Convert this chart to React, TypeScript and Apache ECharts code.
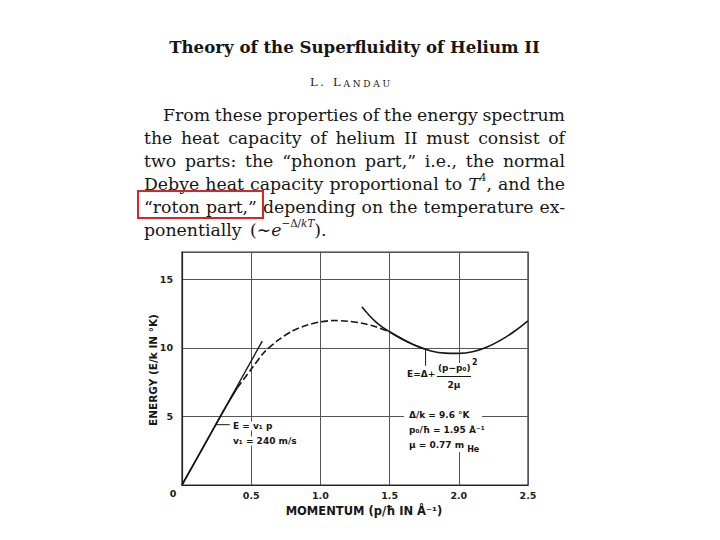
import React, { useEffect, useRef } from "react";
import * as echarts from "echarts";

// ---- data ----
const momentum = [0, 0.1, 0.2, 0.3, 0.4, 0.5, 0.6, 0.7, 0.8, 0.9, 1.0, 1.1, 1.2, 1.3, 1.4, 1.5, 1.6, 1.7, 1.8, 1.9, 2.0, 2.1, 2.2, 2.3, 2.4, 2.5];
const energy = [0, 1.8, 3.6, 5.4, 7.1, 8.45, 9.75, 10.6, 11.25, 11.65, 11.9, 12.0, 11.95, 11.8, 11.55, 11.18, 10.6, 10.12, 9.78, 9.62, 9.6, 9.72, 10.05, 10.55, 11.2, 11.98];
const dashStart = 4; // index of p = 0.4
const dashEnd = 15; // index of p = 1.5
const phononP = [0, 0.58];
const phononE = [0, 10.5];
const rotonP = [1.3, 1.35, 1.4, 1.45, 1.5, 1.55, 1.6, 1.65, 1.7, 1.75];
const rotonE = [13.0, 12.4, 11.9, 11.5, 11.18, 10.87, 10.6, 10.35, 10.12, 9.93];
const rotonLeaderP = [1.76, 1.76];
const rotonLeaderE = [9.9, 8.7];
const phononLeaderP = [0.245, 0.345];
const phononLeaderE = [4.4, 4.4];
const xTickLabels = ["", "0.5", "1.0", "1.5", "2.0", "2.5"];
const yTickLabels = ["", "5", "10", "15"];

const titleText = "Theory of the Superfluidity of Helium II";
const paragraph = [
  "From these properties of the energy spectrum",
  "the heat capacity of helium II must consist of",
  "two parts: the “phonon part,” i.e., the normal",
  "Debye heat capacity proportional to _T_^4^, and the",
  "“roton part,” depending on the temperature ex-",
  "ponentially (∼_e_^−Δ/^~kT~).",
];

const SERIF = '"DejaVu Serif", serif';
const SANS = '"DejaVu Sans", sans-serif';
const INK = "#161616";

const zip = (a: number[], b: number[]) => a.map((v, i) => [v, b[i]]);

export default function App() {
  const ref = useRef<HTMLDivElement>(null);
  useEffect(() => {
    const chart = echarts.init(ref.current!, null, { renderer: "svg" });
    const ctx = document.createElement("canvas").getContext("2d")!;
    const tw = (t: string, size: number, family: string, weight = "normal", style = "normal") => {
      ctx.font = `${style} ${weight} ${size}px ${family}`;
      return ctx.measureText(t).width;
    };
    const txt = (text: string, x: number, y: number, o: any) => ({
      type: "text",
      x,
      y,
      z: o.z ?? 10,
      silent: true,
      rotation: o.rotation ?? 0,
      style: {
        text,
        fontSize: o.size,
        fontFamily: o.family,
        fontWeight: o.weight || "normal",
        fontStyle: o.style || "normal",
        fill: o.fill || INK,
        align: o.align || "left",
        verticalAlign: o.va || "middle",
        backgroundColor: o.bg,
        padding: o.bg ? [0, 2] : undefined,
      },
    });

    const graphics: any[] = [];

    // title
    const tSize = 22 * 371 / tw(titleText, 22, SERIF, "bold");
    graphics.push(txt(titleText, 354.5, 47, { size: tSize, family: SERIF, weight: "bold", align: "center" }));

    // author in small caps, letter-spaced
    const authorChars: [string, number][] = [["L", 11.5], [".", 11.5], [" ", 11.5], ["L", 11.5], ["A", 9], ["N", 9], ["D", 9], ["A", 9], ["U", 9]];
    const natural = authorChars.reduce((s, [c, z]) => s + tw(c, z, SERIF), 0);
    const track = (80 - natural) / (authorChars.length - 1);
    let ax = 310;
    authorChars.forEach(([c, z]) => {
      graphics.push(txt(c, ax, 88, { size: z, family: SERIF, va: "bottom" }));
      ax += tw(c, z, SERIF) + track;
    });

    // paragraph
    type Run = { t: string; it?: boolean; sup?: boolean };
    const parse = (w: string): Run[] => {
      const out: Run[] = [];
      const re = /_([^_]+)_|\^([^^]+)\^|~([^~]+)~|([^_^~]+)/g;
      let m: RegExpExecArray | null;
      while ((m = re.exec(w))) {
        if (m[1]) out.push({ t: m[1], it: true });
        else if (m[2]) out.push({ t: m[2], sup: true });
        else if (m[3]) out.push({ t: m[3], sup: true, it: true });
        else out.push({ t: m[4] });
      }
      return out;
    };
    const runW = (r: Run, P: number) => tw(r.t, r.sup ? P * 0.6 : P, SERIF, "normal", r.it ? "italic" : "normal");
    const wordW = (runs: Run[], P: number) => runs.reduce((s, r) => s + runW(r, P), 0);
    const parsed = paragraph.map((line) => line.split(" ").map(parse));
    const R = 565;
    const lineLeft = (i: number) => (i === 0 ? 163 : 144);
    // font size chosen so every justified line fits with at least 0.85 of a normal space
    const P0 = 19;
    let ratio = 1;
    parsed.slice(0, parsed.length - 1).forEach((words, i) => {
      const sum = words.reduce((s, w) => s + wordW(w, P0), 0) + 0.85 * (words.length - 1) * tw(" ", P0, SERIF);
      ratio = Math.min(ratio, (R - lineLeft(i)) / sum);
    });
    const P = P0 * ratio;
    const drawWord = (runs: Run[], x: number, y: number) => {
      let cx = x;
      runs.forEach((r) => {
        graphics.push(
          txt(r.t, cx, r.sup ? y - P * 0.38 : y, {
            size: r.sup ? P * 0.6 : P,
            family: SERIF,
            style: r.it ? "italic" : "normal",
          })
        );
        cx += runW(r, P);
      });
    };
    parsed.forEach((words, i) => {
      const y = 115 + 23 * i;
      if (i === parsed.length - 1) {
        drawWord(words[0], 144, y);
        drawWord(words[1], 250, y);
        return;
      }
      const L = lineLeft(i);
      const widths = words.map((w) => wordW(w, P));
      const gap = (R - L - widths.reduce((a, b) => a + b, 0)) / (words.length - 1);
      let x = L;
      words.forEach((w, k) => {
        drawWord(w, x, y);
        x += widths[k] + gap;
      });
    });

    // red highlight box
    graphics.push({
      type: "rect",
      z: 12,
      silent: true,
      shape: { x: 138, y: 191, width: 125, height: 27 },
      style: { fill: "none", stroke: "#cf2a2a", lineWidth: 2 },
    });

    // chart annotations
    const A = 9;
    const ann = { size: A, family: SANS, weight: "bold", bg: "#fff" };
    graphics.push(txt("0", 173, 493, { size: 9.5, family: SANS, weight: "bold", align: "center" }));
    graphics.push(txt("MOMENTUM (p/ħ IN Å⁻¹)", 364, 511, { size: 11.5, family: SANS, weight: "bold", align: "center" }));
    graphics.push(txt("ENERGY (E/k IN °K)", 153, 370, { size: 10.5, family: SANS, weight: "bold", align: "center", rotation: Math.PI / 2 }));
    graphics.push(txt("E = v₁ p", 231, 426, ann));
    graphics.push(txt("v₁ = 240 m/s", 231, 441, ann));

    // white patch behind right annotation block (breaks grid lines as in the print)
    graphics.push({
      type: "rect",
      z: 1,
      silent: true,
      shape: { x: 404, y: 363, width: 78, height: 89 },
      style: { fill: "#fff" },
    });
    graphics.push(txt("E=Δ+", 407, 374, { size: A, family: SANS, weight: "bold" }));
    graphics.push(txt("(p−p₀)", 438, 368, { size: A, family: SANS, weight: "bold" }));
    graphics.push(txt("2", 472, 362, { size: 8, family: SANS, weight: "bold" }));
    graphics.push({
      type: "line",
      z: 10,
      silent: true,
      shape: { x1: 437, y1: 376.5, x2: 471, y2: 376.5 },
      style: { stroke: INK, lineWidth: 1 },
    });
    graphics.push(txt("2μ", 454, 385, { size: A, family: SANS, weight: "bold", align: "center" }));
    graphics.push(txt("Δ/k = 9.6 °K", 407, 414.5, ann));
    graphics.push(txt("p₀/ħ = 1.95 Å⁻¹", 407, 430, ann));
    const muText = "μ = 0.77 m";
    graphics.push(txt(muText, 407, 444.5, ann));
    graphics.push(txt("He", 409 + tw(muText, A, SANS, "bold") + 1, 449.5, { size: 8, family: SANS, weight: "bold", bg: "#fff" }));

    const axisLabel = { fontFamily: SANS, fontWeight: "bold", fontSize: 9.5, color: "#222" };
    const solid = { color: INK, width: 1.6, type: "solid" };

    const option: any = {
      animation: false,
      backgroundColor: "#fff",
      grid: { left: 182, right: 192, top: 252, bottom: 55, show: true, borderColor: "#333", borderWidth: 1.2, backgroundColor: "transparent" },
      xAxis: {
        type: "value",
        min: 0,
        max: 2.5,
        interval: 0.5,
        axisLine: { show: true, lineStyle: { color: "#222", width: 1.2 } },
        axisTick: { show: false },
        axisLabel: { ...axisLabel, margin: 5, formatter: (v: number) => xTickLabels[Math.round(v / 0.5)] ?? "" },
        splitLine: { show: true, lineStyle: { color: "#555", width: 1 } },
      },
      yAxis: {
        type: "value",
        min: 0,
        max: 17,
        interval: 5,
        axisLine: { show: true, lineStyle: { color: "#222", width: 1.2 } },
        axisTick: { show: false },
        axisLabel: {
          ...axisLabel,
          margin: 9,
          showMaxLabel: false,
          formatter: (v: number) => (v % 5 === 0 ? yTickLabels[v / 5] ?? "" : ""),
        },
        splitLine: { show: true, lineStyle: { color: "#555", width: 1 } },
      },
      series: [
        { type: "line", data: zip(momentum.slice(0, dashStart + 1), energy.slice(0, dashStart + 1)), smooth: 0.3, showSymbol: false, lineStyle: solid },
        { type: "line", data: zip(momentum.slice(dashStart, dashEnd + 1), energy.slice(dashStart, dashEnd + 1)), smooth: 0.3, showSymbol: false, lineStyle: { color: INK, width: 1.6, type: [7, 3] } },
        { type: "line", data: zip(momentum.slice(dashEnd), energy.slice(dashEnd)), smooth: 0.3, showSymbol: false, lineStyle: solid },
        { type: "line", data: zip(phononP, phononE), showSymbol: false, lineStyle: { color: INK, width: 1.4 } },
        { type: "line", data: zip(rotonP, rotonE), smooth: 0.3, showSymbol: false, lineStyle: { color: INK, width: 1.5 } },
        { type: "line", data: zip(rotonLeaderP, rotonLeaderE), showSymbol: false, lineStyle: { color: INK, width: 1 } },
        { type: "line", data: zip(phononLeaderP, phononLeaderE), showSymbol: false, lineStyle: { color: INK, width: 1 } },
      ],
      graphic: { elements: graphics },
    };
    chart.setOption(option);
    return () => chart.dispose();
  }, []);
  return <div ref={ref} style={{ position: "fixed", left: 0, top: 0, width: 720, height: 540, background: "#fff" }} />;
}
